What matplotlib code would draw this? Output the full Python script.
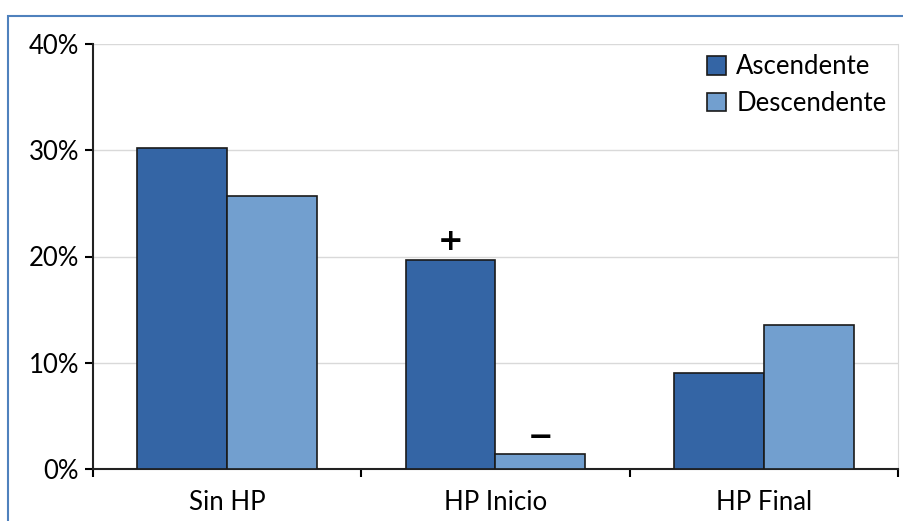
import matplotlib.pyplot as plt
from matplotlib.patches import Rectangle
from matplotlib.ticker import FuncFormatter
import numpy as np

categories = ['Sin HP', 'HP Inicio', 'HP Final']
ascendente = [30.2, 19.7, 9.0]
descendente = [25.7, 1.4, 13.6]
marks = {1: ('+', '−')}  # annotations above HP Inicio bars

plt.rcParams['font.family'] = ['Lato', 'DejaVu Sans']

fig = plt.figure(figsize=(9.04, 5.21), dpi=100)
fig.patches.append(Rectangle((8 / 904, -0.1), 1.2, (521 - 16) / 521 + 0.1,
                             transform=fig.transFigure, fill=False,
                             edgecolor='#4F81BD', linewidth=1.5, zorder=0))
ax = fig.add_axes([93 / 904, 1 - 469 / 521, (898 - 93) / 904, (469 - 44) / 521])

x = np.arange(len(categories))
w = 0.335
ax.bar(x - w / 2, ascendente, w, color='#3465A5', edgecolor='#1a1a1a',
       linewidth=1.2, label='Ascendente', zorder=3)
ax.bar(x + w / 2, descendente, w, color='#729FCF', edgecolor='#1a1a1a',
       linewidth=1.2, label='Descendente', zorder=3)

for i, (a_mark, d_mark) in marks.items():
    ax.text(x[i] - w / 2, ascendente[i] + 0.3, a_mark, ha='center', va='bottom',
            fontsize=22, fontweight='bold', family=['DejaVu Sans'])
    ax.text(x[i] + w / 2, descendente[i] + 0.2, d_mark, ha='center', va='bottom',
            fontsize=22, fontweight='bold', family=['DejaVu Sans'])

ax.set_xlim(-0.5, 2.5)
ax.set_ylim(0, 40)
ax.set_yticks([0, 10, 20, 30, 40])
ax.yaxis.set_major_formatter(FuncFormatter(lambda v, p: f'{v:.0f}%'))
ax.set_xticks(x)
ax.set_xticklabels(categories)
ax.set_xticks([-0.5, 0.5, 1.5, 2.5], minor=True)
ax.tick_params(axis='x', which='major', length=0, pad=15, labelsize=18.5)
ax.tick_params(axis='x', which='minor', length=6, width=1.5, direction='out')
ax.tick_params(axis='y', length=6, width=1.5, direction='out', labelsize=18.5, pad=4)
ax.grid(axis='y', color='#D9D9D9', linewidth=1, zorder=0)
ax.set_axisbelow(True)

for s in ['left', 'bottom']:
    ax.spines[s].set_linewidth(1.5)
    ax.spines[s].set_color('#222222')
ax.spines['top'].set_visible(False)
ax.spines['right'].set_color('#D9D9D9')

leg = ax.legend(loc='upper right', bbox_to_anchor=(1.008, 1.018), frameon=False,
                fontsize=18.5, handlelength=0.75, handleheight=0.75,
                handletextpad=0.4, labelspacing=0.45, borderaxespad=0.3)

fig.savefig('out.png', dpi=100)
